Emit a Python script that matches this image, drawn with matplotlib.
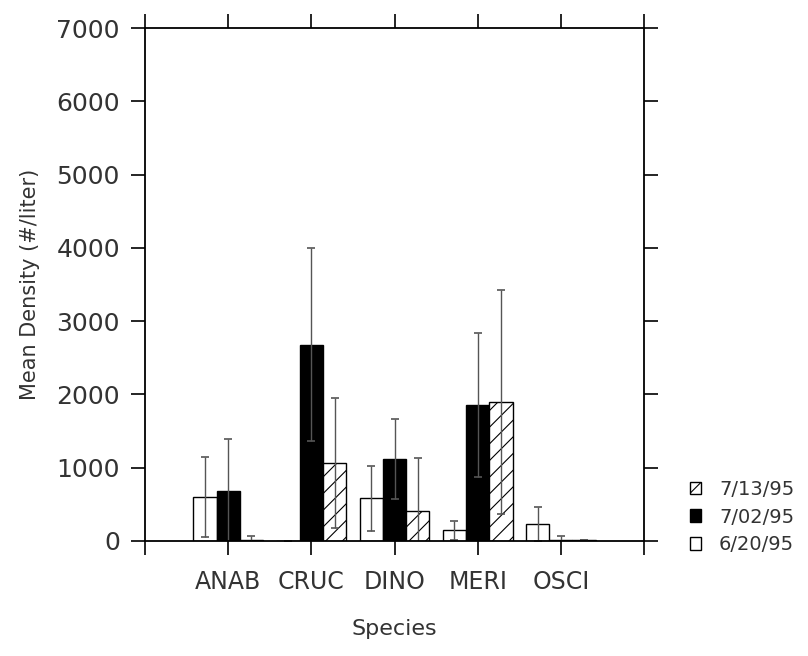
import numpy as np
import matplotlib
matplotlib.use("Agg")
import matplotlib.pyplot as plt
from matplotlib.patches import Patch

species = ['ANAB', 'CRUC', 'DINO', 'MERI', 'OSCI']
dates = ['6/20/95', '7/02/95', '7/13/95']
d0620 = [600, 0, 580, 145, 230]
e0620 = [550, 0, 445, 130, 228]
d0702 = [680, 2680, 1115, 1855, 20]
e0702 = [710, 1320, 545, 985, 55]
d0713 = [20, 1065, 405, 1900, 8]
e0713 = [55, 885, 725, 1530, 0]
yticks = [0, 1000, 2000, 3000, 4000, 5000, 6000, 7000]

plt.rcParams['font.family'] = ['DejaVu Sans']
plt.rcParams['hatch.linewidth'] = 0.8
txtc = '#333333'

fig = plt.figure(figsize=(8.08, 6.56), dpi=100)
ax = fig.add_axes([145/808, 1-541/656, (644-145)/808, (541-28)/656])

x = np.arange(1, len(species)+1)
w = 0.28
ekw = dict(ecolor='#555555', elinewidth=1.0, capsize=3, capthick=1.2)
b1 = ax.bar(x - w, d0620, w, color='white', edgecolor='black', linewidth=1.0,
            yerr=e0620, error_kw=ekw, zorder=2)
b2 = ax.bar(x, d0702, w, color='black', edgecolor='black', linewidth=1.0,
            yerr=e0702, error_kw=ekw, zorder=2)
b3 = ax.bar(x + w, d0713, w, color='white', edgecolor='black', linewidth=1.0,
            hatch='//', yerr=e0713, error_kw=ekw, zorder=2)

ax.set_xlim(0, 6)
ax.set_ylim(0, 7000)
ax.set_xticks(range(7))
ax.set_xticklabels([''] + species + [''])
ax.set_yticks(yticks)
ax.set_yticklabels([str(v) for v in yticks])
ax.tick_params(axis='both', direction='out', length=10, width=1.2,
               labelsize=18, labelcolor=txtc, top=True, right=True)
ax.tick_params(axis='x', pad=11, labelsize=17)
ax.tick_params(axis='y', pad=8)
for s in ax.spines.values():
    s.set_linewidth(1.3)

ax.set_ylabel('Mean Density (#/liter)', fontsize=15, color=txtc, labelpad=12)
ax.set_xlabel('Species', fontsize=16, color=txtc, labelpad=18)

handles = [Patch(facecolor='white', edgecolor='black', hatch='//', label=dates[2]),
           Patch(facecolor='black', edgecolor='black', label=dates[1]),
           Patch(facecolor='white', edgecolor='black', label=dates[0])]
fig.legend(handles=handles, loc='upper left', bbox_to_anchor=(682/808, 1-472/656),
           frameon=False, fontsize=14, handlelength=0.6, handleheight=0.6,
           handletextpad=0.9, labelspacing=0.45, labelcolor=txtc, borderaxespad=0)

fig.savefig('out.png', dpi=100)
